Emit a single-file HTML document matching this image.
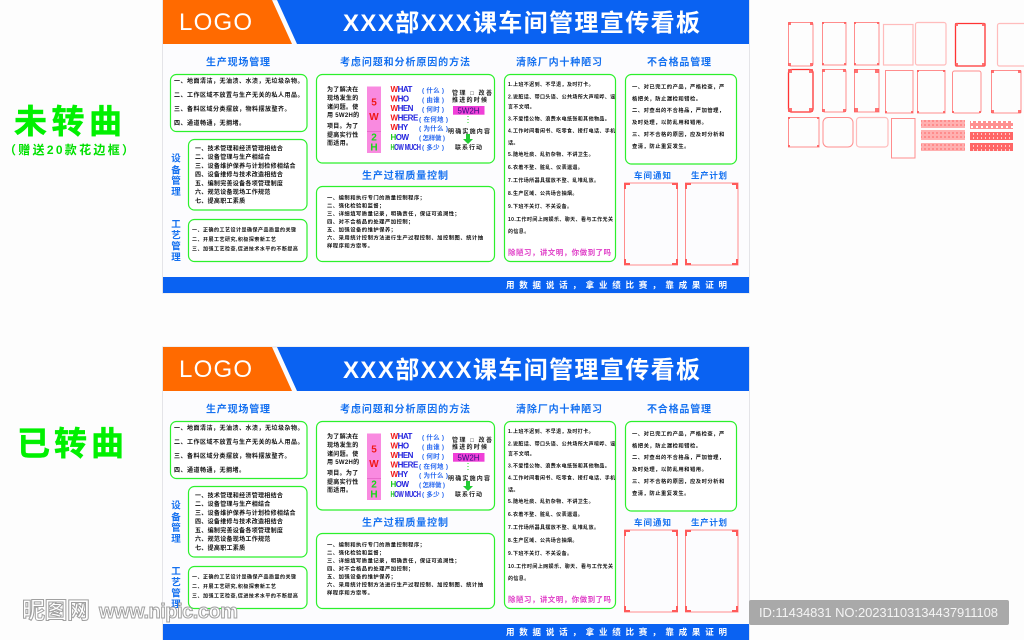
<!DOCTYPE html>
<html><head><meta charset="utf-8"><style>
html,body{margin:0;padding:0;background:#fdfdfd;width:1024px;height:640px;overflow:hidden}
svg{display:block;font-family:"Liberation Sans","Noto Sans CJK SC",sans-serif}
text{font-weight:bold;white-space:pre}
.a{font-size:6px;letter-spacing:.5px;fill:#111}
.b{font-size:6px;letter-spacing:.3px;fill:#111}
.c{font-size:5px;letter-spacing:.5px;fill:#111}
.e{font-size:5.3px;letter-spacing:.5px;fill:#111}
.f{font-size:5px;letter-spacing:.4px;fill:#111}
.g{font-size:5.3px;letter-spacing:.5px;fill:#111}
.h{font-size:10px;letter-spacing:1px;fill:#1470f0}
.v{font-size:9.500px;fill:#1470f0;text-anchor:middle}
.w{font-size:8px;letter-spacing:-.5px;fill:#2222dd}
.p{font-size:6.500px;fill:#2a6af0}
.l{font-size:6px;letter-spacing:.3px;fill:#111}
.r{font-size:6px;fill:#222}
.box{fill:#fff;stroke:#2cf02c;stroke-width:1.2}
.fr{fill:none;stroke:#ff8d8d;stroke-width:1}
.fs{fill:none;stroke:#f33;stroke-width:1.3}
.fl{fill:none;stroke:#ffbcbc;stroke-width:1.2}
.o{fill:#ff5a5a}
</style></head><body>
<svg xmlns="http://www.w3.org/2000/svg" width="1024" height="640" viewBox="0 0 1024 640">
<defs>
<pattern id="s1" width="4" height="4" patternUnits="userSpaceOnUse"><rect width="4" height="4" fill="#ffb0b0"/><rect x="0" y="0" width="2" height="2" fill="#ff8c8c"/></pattern>
<pattern id="s2" width="5" height="5" patternUnits="userSpaceOnUse"><rect width="5" height="5" fill="#ff8f8f"/><rect x="1" y="1" width="2" height="2" fill="#fff"/></pattern>
<pattern id="s3" width="4" height="4" patternUnits="userSpaceOnUse"><rect width="4" height="4" fill="#ff6666"/><rect x="1" y="1" width="1" height="2" fill="#ffc8c8"/></pattern>
</defs>
<rect width="1024" height="640" fill="#fdfdfd"/>

<!-- BOARD 1 -->
<g>
<rect x="162.500" y="0" width="587" height="293" fill="#fcfcfe" stroke="#e4e4e8"/>
<polygon points="163,0 272,0 292,44 163,44" fill="#ff6a00"/>
<polygon points="277,0 749,0 749,44 297,44" fill="#0a62f2"/>
<text x="179" y="30" font-size="24" textLength="73" style="font-weight:normal" fill="#fff">LOGO</text>
<text x="343" y="31" font-size="24" textLength="357" fill="#fff">XXX部XXX课车间管理宣传看板</text>
<text class="h" x="206" y="65.500" textLength="65">生产现场管理</text>
<text class="h" x="340" y="65.500" textLength="131">考虑问题和分析原因的方法</text>
<text class="h" x="516" y="65.500" textLength="87">清除厂内十种陋习</text>
<text class="h" x="647" y="65.500" textLength="65">不合格品管理</text>
<rect class="box" x="170.500" y="74.500" width="136.500" height="57" rx="6"/>
<text class="a" x="174" y="83.200">一、地面清洁，无油渍、水渍，无垃圾杂物。</text>
<text class="a" x="174" y="97.200">二、工作区域不放置与生产无关的私人用品。</text>
<text class="a" x="174" y="111.200">三、备料区域分类摆放，物料摆放整齐。</text>
<text class="a" x="174" y="125.200">四、通道畅通，无拥堵。</text>
<rect class="box" x="188.500" y="139.500" width="118.500" height="70.500" rx="6"/>
<text class="b" x="195" y="150.500">一、技术管理和经济管理相结合</text>
<text class="b" x="195" y="159">二、设备管理与生产相结合</text>
<text class="b" x="195" y="168">三、设备维护保养与计划检修相结合</text>
<text class="b" x="195" y="176.500">四、设备维修与技术改造相结合</text>
<text class="b" x="195" y="185.500">五、编制完善设备各项管理制度</text>
<text class="b" x="195" y="194.200">六、规范设备现场工作规范</text>
<text class="b" x="195" y="203">七、提高职工素质</text>
<rect class="box" x="188.500" y="219.500" width="118.500" height="42" rx="6"/>
<text class="c" x="192" y="231.300">一、正确的工艺设计是确保产品质量的关键</text>
<text class="c" x="192" y="240.800">二、开展工艺研究,积极探索新工艺</text>
<text class="c" x="192" y="250.300">三、加强工艺检查,促进技术水平的不断提高</text>
<text class="v" x="176" y="161.500">设</text><text class="v" x="176" y="173.500">备</text><text class="v" x="176" y="184">管</text><text class="v" x="176" y="195">理</text>
<text class="v" x="176" y="227.500">工</text><text class="v" x="176" y="238.500">艺</text><text class="v" x="176" y="249.500">管</text><text class="v" x="176" y="260.500">理</text>
<rect class="box" x="316.500" y="74.500" width="178" height="88.500" rx="6"/>
<text class="l" x="327" y="91.500">为了解决在</text><text class="l" x="327" y="100.200">现场发生的</text><text class="l" x="327" y="109">诸问题。使</text><text class="l" x="327" y="117.200">用 5W2H的</text><text class="l" x="327" y="128.200">项目。为了</text><text class="l" x="327" y="137.200">提高实行性</text><text class="l" x="327" y="145.200">而适用。</text>
<rect x="367" y="86.500" width="14" height="66.500" fill="#f98ae0"/><rect x="367" y="131" width="14" height=".7" fill="#e060c0"/>
<g font-size="10" text-anchor="middle"><text x="374" y="105.500" fill="#f01818">5</text><text x="374" y="120" fill="#f01818">W</text><text x="374" y="140.500" fill="#18d818">2</text><text x="374" y="150.500" fill="#18d818">H</text></g>
<text class="w" x="390.500" y="92"><tspan fill="#f01818">W</tspan>HAT</text>
<text class="w" x="390.500" y="101.500"><tspan fill="#f01818">W</tspan>HO</text>
<text class="w" x="390.500" y="111"><tspan fill="#f01818">W</tspan>HEN</text>
<text class="w" x="390.500" y="120.500"><tspan fill="#f01818">W</tspan>HERE</text>
<text class="w" x="390.500" y="130"><tspan fill="#f01818">W</tspan>HY</text>
<text class="w" x="390.500" y="140"><tspan fill="#18c818">H</tspan>OW</text>
<text class="w" x="390.500" y="150" textLength="30" lengthAdjust="spacingAndGlyphs"><tspan fill="#18c818">H</tspan>OW MUCH</text>
<text class="p" x="422" y="92.500" textLength="22">( 什么 )</text>
<text class="p" x="422" y="102" textLength="22">( 由谁 )</text>
<text class="p" x="422" y="111.500" textLength="22">( 何时 )</text>
<text class="p" x="419" y="121.500" textLength="29">( 在何地 )</text>
<text class="p" x="419" y="130.500" textLength="29">( 为什么 )</text>
<text class="p" x="419" y="140" textLength="26">( 怎样做 )</text>
<text class="p" x="422" y="149.500" textLength="22">( 多少 )</text>
<text class="r" x="452" y="95" textLength="40">管理 □ 改善</text>
<text class="r" x="452" y="102" textLength="35">推进的时候</text>
<rect x="453" y="106" width="31.500" height="8.700" fill="#f040d8"/>
<text x="457.500" y="113.300" font-size="8" fill="#301080" textLength="22" lengthAdjust="spacingAndGlyphs" style="font-weight:normal">5W2H</text>
<line x1="468" y1="116" x2="468" y2="125" stroke="#22dd22" stroke-width="1" stroke-dasharray="1 2"/>
<text class="r" x="448" y="133.500" textLength="42">明确实施内容</text>
<polygon points="466,134 470,134 470,139 473,139 468,144 463,139 466,139" fill="#22cc33"/>
<text class="r" x="455" y="149.500" textLength="27">联系行动</text>
<text class="h" x="362" y="179" textLength="87">生产过程质量控制</text>
<rect class="box" x="316.500" y="186.500" width="178" height="75" rx="6"/>
<text class="e" x="327" y="199.600">一、编制和执行专门的质量控制程序；</text>
<text class="e" x="327" y="207.600">二、强化检验和监督；</text>
<text class="e" x="327" y="215.600">三、详细填写质量记录，明确责任，保证可追溯性；</text>
<text class="e" x="327" y="223.600">四、对不合格品的处理严加控制；</text>
<text class="e" x="327" y="231.600">五、加强设备的维护保养；</text>
<text class="e" x="327" y="239.600">六、采用统计控制方法进行生产过程控制、加控制图、统计抽</text>
<text class="e" x="327" y="247.600">样程序和方案等。</text>
<rect class="box" x="504.500" y="74.500" width="111" height="187" rx="6"/>
<text class="f" x="508" y="85.800">1.上班不迟到、不早退，及时打卡。</text>
<text class="f" x="508" y="98.500">2.说脏话、带口头语、公共场所大声喧哗、谣</text>
<text class="f" x="508" y="108.500">言不文明。</text>
<text class="f" x="508" y="120.500">3.不爱惜公物、浪费水电纸张和其他物品。</text>
<text class="f" x="508" y="132.500">4.工作时间看闲书、吃零食、接打电话、手机</text>
<text class="f" x="508" y="144.500">话。</text>
<text class="f" x="508" y="156.100">5.随地吐痰、乱扔杂物、不讲卫生。</text>
<text class="f" x="508" y="169.100">6.衣着不整、脏乱、仪表邋遢。</text>
<text class="f" x="508" y="182.100">7.工作场所器具摆放不整、乱堆乱放。</text>
<text class="f" x="508" y="195.100">8.生产区域、公共场合抽烟。</text>
<text class="f" x="508" y="208.100">9.下班不关灯、不关设备。</text>
<text class="f" x="508" y="220.800">10.工作时间上网娱乐、聊天、看与工作无关</text>
<text class="f" x="508" y="233.100">的信息。</text>
<text x="508" y="255" font-size="7.500" fill="#e040c8" textLength="103">除陋习，讲文明，你做到了吗</text>
<rect class="box" x="625.500" y="74.500" width="111" height="89.500" rx="6"/>
<text class="g" x="632" y="88.600">一、对已完工的产品，严格检查，严</text>
<text class="g" x="632" y="100.600">格把关，防止漏检和错检。</text>
<text class="g" x="632" y="112.200">二、对查出的不合格品，严加管理，</text>
<text class="g" x="632" y="124.200">及时处理，以防乱用和错用。</text>
<text class="g" x="632" y="135.900">三、对不合格的原因，应及时分析和</text>
<text class="g" x="632" y="147.900">查清，防止重复发生。</text>
<text x="634" y="178.500" font-size="8.500" fill="#1470f0" textLength="37">车间通知</text>
<text x="691" y="178.500" font-size="8.500" fill="#1470f0" textLength="36">生产计划</text>
<rect class="fr" x="624.500" y="183" width="53" height="82"/><rect class="fr" x="685.500" y="183" width="52.500" height="82"/>
<path class="o" d="M624 183h6v2h-4v4h-2zM678 183h-6v2h4v4h2zM624 265h6v-2h-4v-4h-2zM678 265h-6v-2h4v-4h2zM685 183h6v2h-4v4h-2zM738 183h-6v2h4v4h2zM685 265h6v-2h-4v-4h-2zM738 265h-6v-2h4v-4h2z"/>
<rect x="163" y="277" width="586" height="16" fill="#0a62f2"/>
<text x="506" y="288.200" font-size="8.500" fill="#fff" textLength="221">用数据说话，拿业绩比赛，靠成果证明</text>
</g>

<!-- BOARD 2 -->
<g transform="translate(0,347)">
<rect x="162.500" y="0" width="587" height="293" fill="#fcfcfe" stroke="#e4e4e8"/>
<polygon points="163,0 272,0 292,44 163,44" fill="#ff6a00"/>
<polygon points="277,0 749,0 749,44 297,44" fill="#0a62f2"/>
<text x="179" y="30" font-size="24" textLength="73" style="font-weight:normal" fill="#fff">LOGO</text>
<text x="343" y="31" font-size="24" textLength="357" fill="#fff">XXX部XXX课车间管理宣传看板</text>
<text class="h" x="206" y="65.500" textLength="65">生产现场管理</text>
<text class="h" x="340" y="65.500" textLength="131">考虑问题和分析原因的方法</text>
<text class="h" x="516" y="65.500" textLength="87">清除厂内十种陋习</text>
<text class="h" x="647" y="65.500" textLength="65">不合格品管理</text>
<rect class="box" x="170.500" y="74.500" width="136.500" height="57" rx="6"/>
<text class="a" x="174" y="83.200">一、地面清洁，无油渍、水渍，无垃圾杂物。</text>
<text class="a" x="174" y="97.200">二、工作区域不放置与生产无关的私人用品。</text>
<text class="a" x="174" y="111.200">三、备料区域分类摆放，物料摆放整齐。</text>
<text class="a" x="174" y="125.200">四、通道畅通，无拥堵。</text>
<rect class="box" x="188.500" y="139.500" width="118.500" height="70.500" rx="6"/>
<text class="b" x="195" y="150.500">一、技术管理和经济管理相结合</text>
<text class="b" x="195" y="159">二、设备管理与生产相结合</text>
<text class="b" x="195" y="168">三、设备维护保养与计划检修相结合</text>
<text class="b" x="195" y="176.500">四、设备维修与技术改造相结合</text>
<text class="b" x="195" y="185.500">五、编制完善设备各项管理制度</text>
<text class="b" x="195" y="194.200">六、规范设备现场工作规范</text>
<text class="b" x="195" y="203">七、提高职工素质</text>
<rect class="box" x="188.500" y="219.500" width="118.500" height="42" rx="6"/>
<text class="c" x="192" y="231.300">一、正确的工艺设计是确保产品质量的关键</text>
<text class="c" x="192" y="240.800">二、开展工艺研究,积极探索新工艺</text>
<text class="c" x="192" y="250.300">三、加强工艺检查,促进技术水平的不断提高</text>
<text class="v" x="176" y="161.500">设</text><text class="v" x="176" y="173.500">备</text><text class="v" x="176" y="184">管</text><text class="v" x="176" y="195">理</text>
<text class="v" x="176" y="227.500">工</text><text class="v" x="176" y="238.500">艺</text><text class="v" x="176" y="249.500">管</text><text class="v" x="176" y="260.500">理</text>
<rect class="box" x="316.500" y="74.500" width="178" height="88.500" rx="6"/>
<text class="l" x="327" y="91.500">为了解决在</text><text class="l" x="327" y="100.200">现场发生的</text><text class="l" x="327" y="109">诸问题。使</text><text class="l" x="327" y="117.200">用 5W2H的</text><text class="l" x="327" y="128.200">项目。为了</text><text class="l" x="327" y="137.200">提高实行性</text><text class="l" x="327" y="145.200">而适用。</text>
<rect x="367" y="86.500" width="14" height="66.500" fill="#f98ae0"/><rect x="367" y="131" width="14" height=".7" fill="#e060c0"/>
<g font-size="10" text-anchor="middle"><text x="374" y="105.500" fill="#f01818">5</text><text x="374" y="120" fill="#f01818">W</text><text x="374" y="140.500" fill="#18d818">2</text><text x="374" y="150.500" fill="#18d818">H</text></g>
<text class="w" x="390.500" y="92"><tspan fill="#f01818">W</tspan>HAT</text>
<text class="w" x="390.500" y="101.500"><tspan fill="#f01818">W</tspan>HO</text>
<text class="w" x="390.500" y="111"><tspan fill="#f01818">W</tspan>HEN</text>
<text class="w" x="390.500" y="120.500"><tspan fill="#f01818">W</tspan>HERE</text>
<text class="w" x="390.500" y="130"><tspan fill="#f01818">W</tspan>HY</text>
<text class="w" x="390.500" y="140"><tspan fill="#18c818">H</tspan>OW</text>
<text class="w" x="390.500" y="150" textLength="30" lengthAdjust="spacingAndGlyphs"><tspan fill="#18c818">H</tspan>OW MUCH</text>
<text class="p" x="422" y="92.500" textLength="22">( 什么 )</text>
<text class="p" x="422" y="102" textLength="22">( 由谁 )</text>
<text class="p" x="422" y="111.500" textLength="22">( 何时 )</text>
<text class="p" x="419" y="121.500" textLength="29">( 在何地 )</text>
<text class="p" x="419" y="130.500" textLength="29">( 为什么 )</text>
<text class="p" x="419" y="140" textLength="26">( 怎样做 )</text>
<text class="p" x="422" y="149.500" textLength="22">( 多少 )</text>
<text class="r" x="452" y="95" textLength="40">管理 □ 改善</text>
<text class="r" x="452" y="102" textLength="35">推进的时候</text>
<rect x="453" y="106" width="31.500" height="8.700" fill="#f040d8"/>
<text x="457.500" y="113.300" font-size="8" fill="#301080" textLength="22" lengthAdjust="spacingAndGlyphs" style="font-weight:normal">5W2H</text>
<line x1="468" y1="116" x2="468" y2="125" stroke="#22dd22" stroke-width="1" stroke-dasharray="1 2"/>
<text class="r" x="448" y="133.500" textLength="42">明确实施内容</text>
<polygon points="466,134 470,134 470,139 473,139 468,144 463,139 466,139" fill="#22cc33"/>
<text class="r" x="455" y="149.500" textLength="27">联系行动</text>
<text class="h" x="362" y="179" textLength="87">生产过程质量控制</text>
<rect class="box" x="316.500" y="186.500" width="178" height="75" rx="6"/>
<text class="e" x="327" y="199.600">一、编制和执行专门的质量控制程序；</text>
<text class="e" x="327" y="207.600">二、强化检验和监督；</text>
<text class="e" x="327" y="215.600">三、详细填写质量记录，明确责任，保证可追溯性；</text>
<text class="e" x="327" y="223.600">四、对不合格品的处理严加控制；</text>
<text class="e" x="327" y="231.600">五、加强设备的维护保养；</text>
<text class="e" x="327" y="239.600">六、采用统计控制方法进行生产过程控制、加控制图、统计抽</text>
<text class="e" x="327" y="247.600">样程序和方案等。</text>
<rect class="box" x="504.500" y="74.500" width="111" height="187" rx="6"/>
<text class="f" x="508" y="85.800">1.上班不迟到、不早退，及时打卡。</text>
<text class="f" x="508" y="98.500">2.说脏话、带口头语、公共场所大声喧哗、谣</text>
<text class="f" x="508" y="108.500">言不文明。</text>
<text class="f" x="508" y="120.500">3.不爱惜公物、浪费水电纸张和其他物品。</text>
<text class="f" x="508" y="132.500">4.工作时间看闲书、吃零食、接打电话、手机</text>
<text class="f" x="508" y="144.500">话。</text>
<text class="f" x="508" y="156.100">5.随地吐痰、乱扔杂物、不讲卫生。</text>
<text class="f" x="508" y="169.100">6.衣着不整、脏乱、仪表邋遢。</text>
<text class="f" x="508" y="182.100">7.工作场所器具摆放不整、乱堆乱放。</text>
<text class="f" x="508" y="195.100">8.生产区域、公共场合抽烟。</text>
<text class="f" x="508" y="208.100">9.下班不关灯、不关设备。</text>
<text class="f" x="508" y="220.800">10.工作时间上网娱乐、聊天、看与工作无关</text>
<text class="f" x="508" y="233.100">的信息。</text>
<text x="508" y="255" font-size="7.500" fill="#e040c8" textLength="103">除陋习，讲文明，你做到了吗</text>
<rect class="box" x="625.500" y="74.500" width="111" height="89.500" rx="6"/>
<text class="g" x="632" y="88.600">一、对已完工的产品，严格检查，严</text>
<text class="g" x="632" y="100.600">格把关，防止漏检和错检。</text>
<text class="g" x="632" y="112.200">二、对查出的不合格品，严加管理，</text>
<text class="g" x="632" y="124.200">及时处理，以防乱用和错用。</text>
<text class="g" x="632" y="135.900">三、对不合格的原因，应及时分析和</text>
<text class="g" x="632" y="147.900">查清，防止重复发生。</text>
<text x="634" y="178.500" font-size="8.500" fill="#1470f0" textLength="37">车间通知</text>
<text x="691" y="178.500" font-size="8.500" fill="#1470f0" textLength="36">生产计划</text>
<rect class="fr" x="624.500" y="183" width="53" height="82"/><rect class="fr" x="685.500" y="183" width="52.500" height="82"/>
<path class="o" d="M624 183h6v2h-4v4h-2zM678 183h-6v2h4v4h2zM624 265h6v-2h-4v-4h-2zM678 265h-6v-2h4v-4h2zM685 183h6v2h-4v4h-2zM738 183h-6v2h4v4h2zM685 265h6v-2h-4v-4h-2zM738 265h-6v-2h4v-4h2z"/>
<rect x="163" y="277" width="586" height="16" fill="#0a62f2"/>
<text x="506" y="288.200" font-size="8.500" fill="#fff" textLength="221">用数据说话，拿业绩比赛，靠成果证明</text>
</g>

<!-- Side labels -->
<text x="14" y="133" font-size="33" fill="#00f000" stroke="#00f000" stroke-width=".5" textLength="108">未转曲</text>
<text x="4" y="154" font-size="12" fill="#00e000" textLength="130">（赠送20款花边框）</text>
<text x="17" y="455" font-size="33" fill="#00f000" stroke="#00f000" stroke-width=".5" textLength="107">已转曲</text>

<!-- Decorative frames -->
<rect class="fr" x="788.500" y="22.500" width="24.500" height="43.500" rx="2"/>
<rect class="fr" x="822.500" y="22.500" width="23.500" height="42.500"/>
<rect class="fr" x="854.500" y="22.500" width="24.500" height="42.500"/>
<rect class="fl" x="883.500" y="24.500" width="29.500" height="40.500"/>
<rect class="fl" x="915.500" y="22.500" width="30.500" height="42.500" rx="2"/>
<rect class="fs" x="955.500" y="23.500" width="29.500" height="42.500" rx="1"/>
<rect class="fl" x="997.500" y="23.500" width="30" height="42.500" rx="2"/>
<rect class="fs" x="788.500" y="69.500" width="24.500" height="42.500" rx="3"/>
<rect class="fr" x="822.500" y="69.500" width="23.500" height="42.500" rx="2"/>
<rect class="fr" x="854.500" y="69.500" width="24.500" height="42.500"/>
<rect class="fr" x="885.500" y="70.500" width="27.500" height="42.500"/>
<rect class="fr" x="917.500" y="70.500" width="27.500" height="42.500"/>
<rect class="fr" x="952.500" y="71" width="28.500" height="42" rx="2"/>
<rect class="fr" x="991.500" y="70.500" width="29.500" height="42.500" rx="1"/>
<rect class="fr" x="788.500" y="117.500" width="30.500" height="29.500"/>
<rect class="fr" x="823" y="117.500" width="30" height="29.500" rx="5"/>
<rect class="fl" x="856.500" y="117.500" width="31.500" height="29.500" rx="3"/>
<rect class="fr" x="891.500" y="118.500" width="23.500" height="39.500"/>
<path class="o" opacity=".85" d="M788 22h3v3h-3zM810 22h3v3h-3zM788 63h3v3h-3zM810 63h3v3h-3zM822 22h2v2h-2zM844 22h2v2h-2zM822 63h2v2h-2zM844 63h2v2h-2zM854 22h2v2h-2zM877 22h2v2h-2zM854 63h2v2h-2zM877 63h2v2h-2zM955 23h3v3h-3zM982 23h3v3h-3zM955 63h3v3h-3zM982 63h3v3h-3zM788 69h4v4h-4zM809 69h4v4h-4zM788 108h4v4h-4zM809 108h4v4h-4zM822 69h3v3h-3zM843 69h3v3h-3zM822 109h3v3h-3zM843 109h3v3h-3zM854 69h4v4h-4zM875 69h4v4h-4zM854 108h4v4h-4zM875 108h4v4h-4zM885 111h2v2h-2zM911 111h2v2h-2zM917 70h2v2h-2zM943 70h2v2h-2zM917 111h2v2h-2zM943 111h2v2h-2zM952 111h2v2h-2zM979 111h2v2h-2zM991 70h3v3h-3zM1018 70h3v3h-3zM991 110h3v3h-3zM1018 110h3v3h-3zM788 117h2v2h-2zM817 117h2v2h-2zM788 145h2v2h-2zM817 145h2v2h-2z"/>
<rect x="921" y="120" width="44" height="8" fill="url(#s1)"/>
<rect x="921" y="130" width="44" height="10" fill="url(#s1)"/>
<rect x="921" y="143" width="44" height="8" fill="url(#s1)"/>
<rect x="970" y="121" width="43" height="8" fill="url(#s2)"/>
<rect x="970" y="132" width="43" height="8" fill="url(#s3)"/>
<rect x="970" y="143" width="43" height="8" fill="url(#s3)"/>

<!-- Watermark -->
<g fill="#fff" stroke="#a0a0a0" stroke-width="1">
<text x="22" y="618" font-size="23" textLength="68">昵图网</text>
<text x="99" y="618" font-size="20" textLength="140" letter-spacing="1">www.nipic.com</text>
</g>
<!-- ID badge -->
<rect x="749" y="600" width="260" height="25" rx="2" fill="#a9a9a9"/>
<text x="759" y="617" font-size="13" fill="#f4f4f4" textLength="239" style="font-weight:normal">ID:11434831 NO:20231103134437911108</text>
</svg>
</body></html>
